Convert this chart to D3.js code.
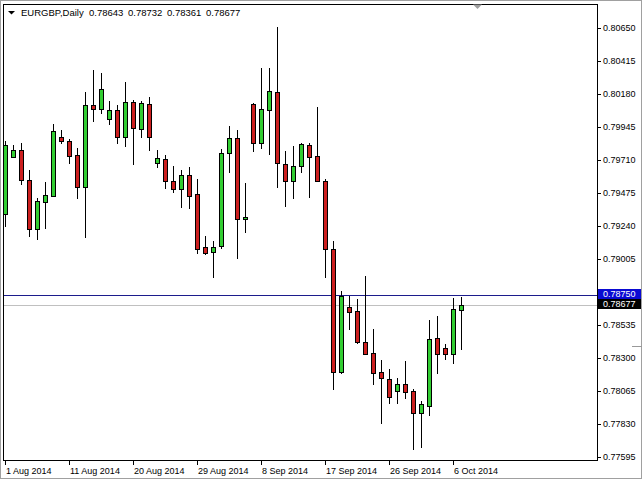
<!DOCTYPE html>
<html><head><meta charset="utf-8">
<script src="https://cdn.jsdelivr.net/npm/d3@7"></script>
<style>
html,body{margin:0;padding:0;background:#fff;}
svg{display:block;}
text{font-family:"Liberation Sans",Arial,sans-serif;font-size:9px;fill:#000;}
</style></head>
<body>
<svg id="c" width="642" height="480"></svg>
<script>
// ---------- data ----------
const dates = [
"2014-08-01","2014-08-03","2014-08-04","2014-08-05","2014-08-06","2014-08-07","2014-08-08",
"2014-08-10","2014-08-11","2014-08-12","2014-08-13","2014-08-14","2014-08-15",
"2014-08-17","2014-08-18","2014-08-19","2014-08-20","2014-08-21","2014-08-22",
"2014-08-24","2014-08-25","2014-08-26","2014-08-27","2014-08-28","2014-08-29",
"2014-08-31","2014-09-01","2014-09-02","2014-09-03","2014-09-04","2014-09-05",
"2014-09-07","2014-09-08","2014-09-09","2014-09-10","2014-09-11","2014-09-12",
"2014-09-14","2014-09-15","2014-09-16","2014-09-17","2014-09-18","2014-09-19",
"2014-09-21","2014-09-22","2014-09-23","2014-09-24","2014-09-25","2014-09-26",
"2014-09-28","2014-09-29","2014-09-30","2014-10-01","2014-10-02","2014-10-03",
"2014-10-05","2014-10-06","2014-10-07"];
const open = [
0.79326,0.79732,0.79782,0.79568,0.79219,0.79413,0.79456,0.79873,0.79846,0.79746,
0.79520,0.80103,0.80072,0.80001,0.80067,0.79873,0.80122,0.79930,0.80108,0.79687,
0.79716,0.79559,0.79502,0.79602,0.79468,0.79088,0.79052,0.79097,0.79759,0.79866,
0.79288,0.80108,0.79830,0.80067,0.80198,0.79682,0.79563,0.79668,0.79816,0.79739,
0.79563,0.79074,0.78197,0.78660,0.78634,0.78413,0.78332,0.78197,0.78149,0.78063,
0.78111,0.78063,0.77904,0.77958,0.78439,0.78368,0.78325,0.78643];
const high = [
0.79846,0.79818,0.79834,0.79639,0.79440,0.79554,0.79968,0.79925,0.79858,0.79794,
0.80194,0.80353,0.80331,0.80132,0.80103,0.80269,0.80139,0.80132,0.80158,0.79782,
0.79746,0.79670,0.79639,0.79661,0.79575,0.79169,0.79133,0.79787,0.79953,0.79925,
0.79545,0.80114,0.80365,0.80365,0.80658,0.79775,0.79811,0.79834,0.79832,0.80091,
0.79573,0.79133,0.78776,0.78743,0.78717,0.78886,0.78505,0.78284,0.78220,0.78158,
0.78277,0.78078,0.77992,0.78570,0.78598,0.78396,0.78724,0.78732];
const low = [
0.79240,0.79729,0.79537,0.79171,0.79147,0.79228,0.79454,0.79830,0.79687,0.79438,
0.79164,0.79991,0.80044,0.79965,0.79830,0.79813,0.79680,0.79873,0.79782,0.79663,
0.79509,0.79485,0.79378,0.79371,0.79045,0.79040,0.78878,0.79085,0.79627,0.79014,
0.79195,0.79775,0.79794,0.79751,0.79520,0.79385,0.79438,0.79623,0.79445,0.79561,
0.78873,0.78075,0.78195,0.78505,0.78408,0.78325,0.78111,0.77837,0.77980,0.77976,
0.78015,0.77647,0.77662,0.77892,0.78190,0.78291,0.78265,0.78361];
const close = [
0.79818,0.79782,0.79568,0.79219,0.79418,0.79461,0.79918,0.79848,0.79741,0.79520,
0.80103,0.80072,0.80215,0.80067,0.79873,0.80122,0.79937,0.80115,0.79873,0.79723,
0.79563,0.79502,0.79604,0.79456,0.79078,0.79045,0.79092,0.79759,0.79866,0.79288,
0.79302,0.79830,0.80072,0.80203,0.79687,0.79563,0.79668,0.79825,0.79734,0.79563,
0.79074,0.78201,0.78741,0.78629,0.78415,0.78329,0.78194,0.78154,0.78018,0.78111,
0.78054,0.77908,0.77968,0.78432,0.78329,0.78325,0.78646,0.78677];
const priceTicks = [0.77595,0.77830,0.78065,0.78300,0.78535,0.79005,0.79240,0.79475,0.79710,0.79945,0.80180,0.80415,0.80650];
const dateTickDates = ["2014-08-01","2014-08-11","2014-08-20","2014-08-29","2014-09-08","2014-09-17","2014-09-26","2014-10-06"];
const dateTickLabels = ["1 Aug 2014","11 Aug 2014","20 Aug 2014","29 Aug 2014","8 Sep 2014","17 Sep 2014","26 Sep 2014","6 Oct 2014"];
const symbol = "EURGBP,Daily";
const hLinePrice = 0.78750;
const bidPrice = 0.78677;

// ---------- layout ----------
const W = 642, H = 480;
const frame = {l:3, t:4, r:597, b:460};
const svg = d3.select("#c");

const x = d3.scalePoint().domain(dates).range([5, 461]);
const y = d3.scaleLinear().domain([0.77595, 0.80650]).range([456.7, 28.3]);
const px = d => Math.round(x(d));
const py = v => Math.round(y(v));

svg.append("rect").attr("x",0).attr("y",0).attr("width",W).attr("height",H).attr("fill","#fff");
svg.append("rect").attr("x",0.5).attr("y",0.5).attr("width",W-1).attr("height",H-2)
  .attr("fill","none").attr("stroke","#a0a0a0");

svg.append("defs").append("clipPath").attr("id","plot")
  .append("rect").attr("x",frame.l+1).attr("y",frame.t+1)
  .attr("width",frame.r-frame.l-1).attr("height",frame.b-frame.t-1);

const plot = svg.append("g").attr("clip-path","url(#plot)");

plot.append("line").attr("x1",frame.l).attr("x2",frame.r)
  .attr("y1",py(bidPrice)+0.5).attr("y2",py(bidPrice)+0.5)
  .attr("stroke","#c0c0c0").attr("stroke-width",1);
plot.append("line").attr("x1",frame.l).attr("x2",frame.r)
  .attr("y1",py(hLinePrice)+0.5).attr("y2",py(hLinePrice)+0.5)
  .attr("stroke","#1c1c8c").attr("stroke-width",1);

const bars = dates.map((d,i)=>({d, o:open[i], h:high[i], l:low[i], c:close[i]}));

const cg = plot.append("g").selectAll("g").data(bars).join("g");
cg.append("line")
  .attr("x1",b=>px(b.d)+0.5).attr("x2",b=>px(b.d)+0.5)
  .attr("y1",b=>py(b.h)).attr("y2",b=>py(b.l)+1)
  .attr("stroke","#000").attr("stroke-width",1);
cg.append("rect")
  .attr("x",b=>px(b.d)-2+0.5)
  .attr("width",4)
  .attr("y",b=>py(Math.max(b.o,b.c))+0.5)
  .attr("height",b=>Math.max(1,py(Math.min(b.o,b.c))-py(Math.max(b.o,b.c))))
  .attr("fill",b=>b.c>=b.o?"#32cd32":"#cc1f1f")
  .attr("stroke","#000").attr("stroke-width",1);

svg.append("rect").attr("x",frame.l+0.5).attr("y",frame.t+0.5)
  .attr("width",frame.r-frame.l).attr("height",frame.b-frame.t)
  .attr("fill","none").attr("stroke","#000");

const ra = svg.append("g");
ra.selectAll("line").data(priceTicks).join("line")
  .attr("x1",frame.r).attr("x2",frame.r+4)
  .attr("y1",v=>py(v)+0.5).attr("y2",v=>py(v)+0.5).attr("stroke","#000");
ra.selectAll("text").data(priceTicks).join("text")
  .attr("x",603).attr("y",v=>py(v)).attr("dy","0.35em")
  .text(v=>v.toFixed(5));

const lab = svg.append("g");
lab.append("rect").attr("x",598).attr("y",py(hLinePrice)-6).attr("width",43).attr("height",10).attr("fill","#0a0ad2");
lab.append("text").attr("x",603).attr("y",py(hLinePrice)-1).attr("dy","0.35em").style("fill","#fff").text(hLinePrice.toFixed(5));
lab.append("rect").attr("x",598).attr("y",py(hLinePrice)+4).attr("width",43).attr("height",10).attr("fill","#000");
lab.append("text").attr("x",603).attr("y",py(hLinePrice)+9).attr("dy","0.35em").style("fill","#fff").text(bidPrice.toFixed(5));

const ba = svg.append("g");
ba.selectAll("line").data(dateTickDates).join("line")
  .attr("x1",d=>px(d)+0.5).attr("x2",d=>px(d)+0.5)
  .attr("y1",frame.b).attr("y2",frame.b+5).attr("stroke","#000");
ba.selectAll("text").data(dateTickDates).join("text")
  .attr("x",d=>px(d)+1).attr("y",473.5)
  .text((d,i)=>dateTickLabels[i]);

// header
svg.append("path").attr("d","M8,11 L15,11 L11.5,14.5 Z").attr("fill","#000");
svg.append("text").attr("x",21).attr("y",16).style("font-size","9.5px").text(symbol);
const last = [open[57],high[57],low[57],close[57]];
svg.append("g").selectAll("text").data(last).join("text")
  .attr("x",(v,i)=>89+39*i).attr("y",16).style("font-size","9.5px")
  .text(v=>v.toFixed(5));

svg.append("path").attr("d","M473,4.5 L482,4.5 L477.5,9 Z").attr("fill","#a0a0a0");
svg.append("line").attr("x1",632).attr("x2",642).attr("y1",346.5).attr("y2",346.5).attr("stroke","#999");
</script>
</body></html>
